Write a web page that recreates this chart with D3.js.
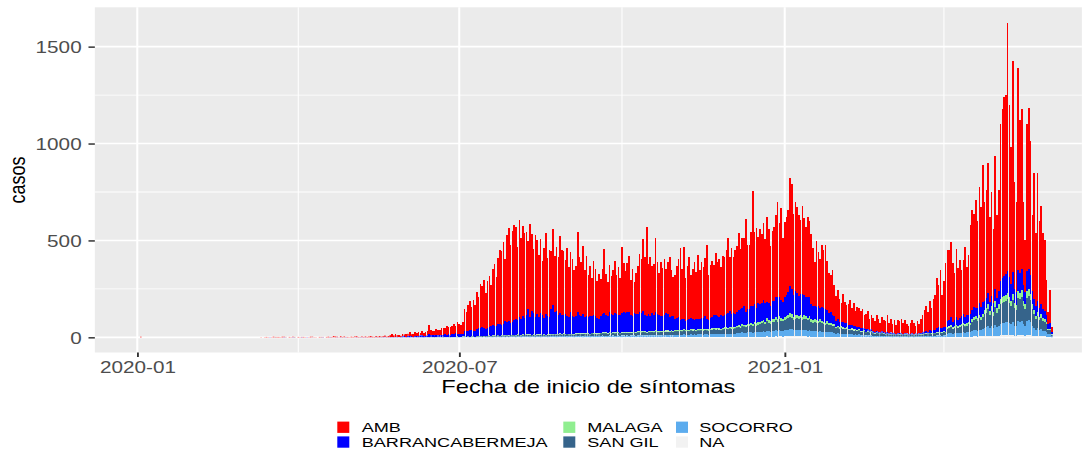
<!DOCTYPE html>
<html><head><meta charset="utf-8">
<script src="https://cdn.jsdelivr.net/npm/d3@7"></script>
<style>html,body{margin:0;padding:0;background:#fff;}svg{display:block;}</style>
</head><body>
<svg id="chart" width="1091" height="450"></svg>
<script>
// ---------------- DATA ----------------
const startDate = "2020-03-07";           // first day of the daily series
const seriesNames = ["AMB","BARRANCABERMEJA","MALAGA","SAN GIL","SOCORRO","NA"];
const seriesColors = ["#FF0000","#0000FF","#90EE90","#36648B","#5CACEE","#F2F2F2"];
const earlyDates = ["2020-01-03"];        // isolated early record
const earlyAmb = [3];
const yTicks = [0,500,1000,1500];
const yMinor = [250,750,1250];
const xTickDates = ["2020-01-01","2020-07-01","2021-01-01"];
const xTickLabels = ["2020-01","2020-07","2021-01"];
const xMinorDates = ["2020-04-01","2020-10-01","2021-04-01"];

const amb = [
0,0,0,0,1,0,1,
2,1,0,1,3,1,2,
2,1,3,2,1,0,2,
1,2,1,0,2,1,1,
2,1,0,1,3,2,1,
1,0,2,1,1,0,2,
3,1,2,5,4,2,1,
4,2,3,1,2,1,3,
2,3,4,2,1,3,2,
3,2,4,5,3,2,4,
3,5,2,4,6,3,5,
10,14,9,12,8,11,6,
12,8,15,10,18,9,14,
18,14,20,12,22,16,19,
22,45,28,20,24,30,26,
25,32,38,30,44,36,40,
45,52,40,58,50,46,60,
115,95,130,150,120,160,135,
190,160,230,210,250,185,240,
260,210,290,320,250,340,380,
380,420,320,450,480,400,470,
490,470,380,500,420,460,440,
430,350,480,400,330,420,380,
320,380,280,360,420,300,350,
300,390,290,330,300,400,340,
330,280,350,260,310,290,240,
260,410,300,280,350,240,310,
220,260,200,280,240,190,230,
190,230,330,210,180,240,200,
230,270,200,250,190,340,250,
220,250,290,180,240,160,210,
250,300,280,370,300,460,260,
300,240,260,380,270,220,280,
250,290,230,270,310,240,200,
230,270,300,370,260,370,220,
280,320,220,260,300,240,330,
250,290,260,300,380,230,270,
290,260,320,280,300,250,310,
300,330,390,280,340,290,330,
340,400,310,360,350,480,330,
330,380,590,370,410,340,390,
360,400,330,440,380,310,360,
380,420,490,380,470,330,390,
400,420,560,540,420,460,440,
420,380,450,400,360,410,390,
360,300,230,340,280,250,320,
300,330,250,210,190,230,160,
130,150,120,100,140,110,95,
110,130,90,120,80,100,95,
90,100,70,80,95,60,75,
70,55,80,65,50,75,60,
60,85,55,70,50,65,45,
70,60,75,55,65,50,45,
55,70,60,40,65,50,75,
90,110,130,100,150,120,160,
180,260,220,300,170,240,330,
370,360,390,300,240,350,270,
300,240,280,360,250,310,460,
520,480,560,450,600,520,710,
510,555,670,440,535,385,685,
425,520,810,875,925,925,1280,
890,705,1091,550,465,1047,790,
825,430,268,760,830,693,390,
650,380,665,450,506,395,368,
181,60,170,25
];

const barranca = [
0,0,0,0,0,0,0,
0,0,1,0,0,0,0,
0,0,0,1,0,0,0,
0,1,0,0,0,0,1,
0,0,1,0,0,0,0,
0,0,0,0,1,0,0,
0,1,0,0,0,1,0,
1,0,0,1,0,0,0,
0,0,1,0,0,1,0,
1,0,0,1,0,0,1,
0,1,0,1,2,0,1,
1,2,1,3,2,1,2,
4,6,3,7,8,5,3,
6,8,5,9,10,7,6,
8,15,10,12,9,11,8,
10,12,9,14,11,13,10,
12,15,18,14,16,12,14,
25,30,28,35,32,26,30,
35,40,38,45,40,36,42,
45,50,55,48,52,58,60,
55,60,70,65,72,62,68,
75,85,70,90,80,95,85,
100,130,90,120,110,95,105,
90,110,100,85,105,95,88,
130,150,110,120,100,105,95,
95,100,90,85,110,95,88,
90,110,95,88,100,85,90,
80,90,85,95,88,80,75,
85,95,100,90,85,105,95,
90,100,95,85,92,98,105,
95,105,100,88,85,95,92,
88,98,92,105,82,78,85,
80,92,86,96,88,82,78,
75,80,88,82,75,72,78,
55,60,65,50,58,52,48,
50,55,60,52,48,58,54,
52,58,60,65,55,50,56,
60,65,70,62,58,68,64,
65,70,75,80,68,72,66,
70,75,85,80,95,70,75,
75,85,95,90,80,100,92,
90,100,95,85,90,80,95,
95,105,115,100,95,88,100,
110,120,140,130,110,125,115,
100,110,120,105,98,108,102,
80,75,65,70,78,60,70,
70,72,60,50,55,45,40,
30,32,25,22,28,24,20,
18,20,15,18,14,15,12,
12,14,10,12,9,8,10,
8,6,9,7,6,8,6,
6,8,5,7,6,5,4,
5,6,4,5,4,4,3,
4,5,3,3,4,4,5,
8,10,12,9,14,12,15,
15,20,24,18,22,20,25,
30,35,40,28,32,38,30,
35,40,45,38,42,36,48,
45,55,42,50,60,48,58,
50,55,60,45,55,45,65,
55,70,90,95,100,105,110,
100,85,110,75,70,105,100,
110,80,65,100,105,95,70,
60,50,55,45,50,45,40,
35,25,30,15
];

const malaga = [
0,0,0,0,0,0,0,
0,0,0,0,0,0,0,
0,0,0,0,0,0,0,
0,0,0,0,0,0,0,
0,0,0,0,0,0,0,
0,0,0,0,0,0,0,
0,0,0,0,0,0,0,
0,0,0,0,0,0,0,
0,0,0,0,0,0,0,
0,0,0,0,0,0,0,
0,0,0,0,0,0,0,
0,0,0,0,0,0,0,
0,0,0,0,0,0,0,
0,0,0,0,0,0,0,
0,1,0,0,0,0,0,
0,0,1,0,0,1,0,
1,0,0,1,0,0,1,
1,0,1,0,1,1,0,
1,1,0,1,1,0,1,
1,2,1,1,2,1,1,
2,1,2,1,2,2,1,
2,2,3,2,2,3,2,
2,3,2,2,3,2,2,
3,2,2,3,2,2,3,
3,2,3,3,2,3,3,
3,3,2,3,3,2,3,
3,3,4,3,3,4,3,
4,3,3,4,3,4,3,
4,4,5,4,4,5,4,
4,5,4,5,4,5,4,
5,4,5,5,4,5,5,
5,5,6,5,5,6,5,
5,6,5,6,5,6,5,
6,5,6,6,5,6,6,
6,6,7,6,6,7,6,
6,7,6,7,6,7,6,
7,6,7,7,6,7,7,
7,7,8,7,7,8,7,
8,7,8,8,7,8,8,
9,10,9,11,10,9,11,
11,12,11,12,11,12,12,
13,14,12,15,13,12,14,
14,16,14,16,15,14,16,
16,17,18,18,16,17,17,
17,17,16,17,16,15,16,
14,13,14,13,12,14,13,
12,11,12,11,11,10,10,
8,9,8,8,8,7,8,
7,6,7,6,7,6,6,
5,5,5,4,5,4,5,
4,3,4,3,3,4,3,
3,3,2,3,2,3,2,
2,3,2,2,3,2,2,
2,2,2,3,2,2,3,
3,3,3,3,4,3,3,
4,4,4,5,4,5,4,
8,8,9,8,9,10,9,
10,10,11,10,11,12,11,
14,15,16,15,17,16,18,
21,22,26,20,24,19,28,
22,25,30,31,32,33,34,
31,28,34,26,25,36,34,
37,28,25,36,37,34,25,
21,16,19,16,18,15,14,
12,7,7,2
];

const sanGil = [
0,0,0,0,0,0,0,
0,0,0,0,0,1,0,
0,0,0,0,0,0,0,
0,0,1,0,0,0,0,
0,0,0,0,0,0,0,
0,0,0,1,0,0,0,
0,0,0,0,0,0,0,
0,0,1,0,0,0,0,
0,0,0,0,1,0,0,
0,0,0,0,0,0,1,
0,0,1,0,0,0,0,
0,1,0,0,1,0,0,
1,0,0,1,0,1,0,
0,1,1,0,1,0,1,
1,2,1,1,2,1,2,
2,1,2,2,1,2,1,
2,2,1,3,2,2,3,
3,2,4,3,3,4,2,
4,3,4,5,3,4,4,
5,4,6,5,4,6,5,
6,5,7,6,5,7,6,
7,6,8,7,6,8,7,
8,7,8,7,8,6,7,
7,8,7,8,6,8,7,
9,8,10,9,8,10,9,
10,9,11,9,10,8,9,
10,11,9,10,11,9,10,
11,10,12,10,11,9,10,
12,11,13,12,11,13,12,
13,12,14,13,12,14,13,
14,13,15,14,13,15,14,
15,16,14,17,15,14,16,
16,17,15,18,16,15,17,
17,16,18,17,16,18,17,
19,18,20,19,18,21,19,
20,19,21,20,22,19,21,
21,22,20,23,21,20,22,
23,24,22,25,23,22,24,
25,26,24,27,26,25,28,
30,32,29,34,33,31,35,
35,37,34,40,36,38,39,
42,45,40,48,44,41,46,
48,52,47,55,50,49,53,
55,58,62,60,54,57,59,
56,58,53,57,55,52,54,
46,44,48,45,42,47,43,
40,38,42,37,39,36,35,
28,30,26,29,27,25,27,
23,22,24,21,22,20,21,
18,17,19,16,17,15,16,
12,11,13,12,10,12,11,
9,10,8,9,8,9,7,
8,9,8,7,9,8,7,
7,8,7,8,7,9,8,
9,10,11,10,12,11,12,
12,14,13,15,14,16,15,
26,28,32,27,29,33,30,
32,35,38,34,36,40,37,
48,52,55,50,58,54,62,
70,75,85,68,80,65,92,
75,85,100,105,108,110,115,
105,95,112,88,82,120,115,
122,95,85,120,125,112,85,
70,55,65,52,60,50,48,
40,22,22,8
];

const socorro = [
0,0,0,0,0,0,0,
0,0,0,0,0,0,0,
0,0,0,0,1,0,0,
0,0,0,0,0,0,0,
0,0,0,0,0,1,0,
0,0,0,0,0,0,0,
0,0,0,1,0,0,0,
0,0,0,0,0,0,0,
0,1,0,0,0,0,0,
0,0,0,0,0,0,0,
0,0,0,0,1,0,0,
0,0,0,1,0,0,0,
0,1,0,0,0,1,0,
1,0,0,1,0,0,1,
1,0,1,1,0,1,1,
1,1,0,1,1,1,0,
1,1,2,1,1,2,1,
2,1,2,1,2,2,1,
2,2,3,2,2,3,2,
3,2,3,3,2,4,3,
3,4,3,4,3,4,4,
4,4,5,4,4,5,4,
5,4,5,4,5,4,5,
4,5,4,5,4,5,4,
5,6,5,6,5,6,5,
6,5,6,6,5,6,5,
6,6,7,6,6,7,6,
7,6,7,6,7,6,7,
7,8,7,8,7,8,7,
8,7,8,8,7,9,8,
8,9,8,9,8,9,8,
9,10,9,10,9,9,10,
10,9,10,11,10,9,10,
10,11,10,11,10,11,10,
11,12,11,12,11,13,12,
12,12,13,12,13,12,13,
13,13,12,14,13,12,14,
14,15,14,15,14,13,15,
15,16,15,17,16,15,17,
18,19,18,21,20,19,22,
22,23,21,25,22,24,24,
26,28,25,30,27,25,28,
29,32,28,33,30,29,32,
33,35,37,36,32,34,35,
34,35,32,34,33,31,33,
28,27,29,27,26,28,26,
24,23,25,22,23,22,21,
17,18,16,17,16,15,16,
13,13,14,12,13,12,13,
10,10,11,9,10,9,10,
7,7,8,7,6,7,7,
5,6,5,5,5,6,4,
5,5,5,4,5,5,4,
4,5,4,5,4,5,5,
5,6,7,6,7,6,7,
7,9,8,9,8,10,9,
16,17,19,16,18,20,18,
19,21,23,20,22,24,22,
28,31,33,30,35,32,37,
42,45,51,41,48,39,56,
45,51,60,63,65,66,69,
63,57,67,53,50,72,69,
73,57,51,72,75,67,51,
42,33,39,31,36,30,28,
24,14,14,5
];

const naVals = [
0,0,0,0,0,0,0,
0,0,0,0,0,0,0,
0,0,0,0,0,0,0,
0,0,0,0,0,0,0,
0,0,0,0,0,0,0,
0,0,0,0,0,0,0,
0,0,0,0,0,0,0,
0,0,0,0,0,0,0,
0,0,0,0,0,0,0,
0,0,0,0,0,0,0,
0,0,0,0,0,0,0,
0,0,0,0,0,0,0,
0,0,0,0,0,0,0,
0,0,0,0,0,0,0,
0,0,0,0,0,0,0,
0,0,0,0,0,0,0,
0,0,0,0,0,0,0,
0,1,0,0,0,1,0,
0,0,1,0,1,0,0,
1,0,0,1,0,1,0,
0,1,0,1,0,1,1,
1,0,1,1,0,1,1,
1,1,0,1,1,0,1,
1,0,1,1,1,0,1,
1,1,1,0,1,1,1,
1,1,0,1,1,1,0,
1,1,1,1,0,1,1,
1,0,1,1,1,1,1,
1,2,1,1,1,2,1,
2,1,1,2,1,1,2,
1,2,1,1,2,1,1,
2,1,2,1,2,1,2,
1,2,1,2,1,2,1,
2,1,2,2,1,2,1,
2,2,1,2,2,2,1,
2,1,2,2,2,1,2,
2,2,2,1,2,2,2,
2,3,2,2,3,2,2,
3,2,3,2,3,3,2,
3,3,3,4,3,3,3,
3,4,3,4,3,4,4,
4,4,4,5,4,4,4,
4,5,4,5,5,4,5,
5,5,6,5,5,5,5,
5,5,5,5,5,4,5,
4,4,4,4,4,4,4,
3,3,4,3,3,3,3,
2,3,2,2,2,2,2,
2,2,2,2,2,2,2,
2,1,2,1,2,1,1,
1,1,1,1,1,1,1,
1,1,1,1,0,1,1,
1,0,1,1,1,1,0,
1,1,0,1,1,1,1,
1,1,1,1,1,1,1,
1,1,2,1,1,2,1,
2,3,3,2,3,3,2,
3,3,3,3,3,4,3,
4,5,5,4,5,5,5,
7,8,8,6,8,7,9,
8,9,10,11,10,11,12,
11,10,12,8,8,12,12,
13,10,9,12,13,12,9,
7,6,7,6,6,5,5,
4,2,2,0
];

// ---------------- RENDER ----------------
const SX = 1.27;                 // horizontal stretch of the reference
const W = 1091, H = 450;
const X = v => v / SX;           // outer px -> inner coordinate
const FONT = "'Liberation Sans', Arial, Helvetica, sans-serif";

const svg = d3.select("#chart")
  .attr("viewBox", `0 0 ${W / SX} ${H}`)
  .attr("preserveAspectRatio", "none")
  .style("font-family", FONT);

const panel = { l: X(94.84), r: X(1081.9), t: 7.3, b: 352.5 };
const parse = d3.utcParse("%Y-%m-%d");

const x = d3.scaleUtc().domain([parse("2019-12-08"), parse("2021-06-18")]).range([panel.l, panel.r]);
const y = d3.scaleLinear().domain([-78.3, 1703]).range([panel.b, panel.t]);

// records
const t0 = parse(startDate);
const seriesArrays = { "AMB": amb, "BARRANCABERMEJA": barranca, "MALAGA": malaga, "SAN GIL": sanGil, "SOCORRO": socorro, "NA": naVals };
const rows = [];
earlyDates.forEach((ds, j) => {
  const r = { date: parse(ds) };
  seriesNames.forEach(s => r[s] = 0);
  r["AMB"] = earlyAmb[j];
  rows.push(r);
});
for (let i = 0; i < amb.length; i++) {
  const r = { date: d3.utcDay.offset(t0, i) };
  seriesNames.forEach(s => r[s] = seriesArrays[s][i] || 0);
  rows.push(r);
}
const color = d3.scaleOrdinal().domain(seriesNames).range(seriesColors);
const stackOrder = seriesNames.slice().reverse(); // first level on top (ggplot)
const stacked = d3.stack().keys(stackOrder)(rows);

// panel background
svg.append("rect").attr("x", panel.l).attr("y", panel.t)
  .attr("width", panel.r - panel.l).attr("height", panel.b - panel.t).attr("fill", "#EBEBEB");

const grid = svg.append("g");
grid.selectAll("line.ymin").data(yMinor).join("line")
  .attr("x1", panel.l).attr("x2", panel.r).attr("y1", d => y(d)).attr("y2", d => y(d))
  .attr("stroke", "#fff").attr("stroke-width", 0.8);
grid.selectAll("line.xmin").data(xMinorDates).join("line")
  .attr("y1", panel.t).attr("y2", panel.b).attr("x1", d => x(parse(d))).attr("x2", d => x(parse(d)))
  .attr("stroke", "#fff").attr("stroke-width", 0.8);
grid.selectAll("line.ymaj").data(yTicks).join("line")
  .attr("x1", panel.l).attr("x2", panel.r).attr("y1", d => y(d)).attr("y2", d => y(d))
  .attr("stroke", "#fff").attr("stroke-width", 1.6);
grid.selectAll("line.xmaj").data(xTickDates).join("line")
  .attr("y1", panel.t).attr("y2", panel.b).attr("x1", d => x(parse(d))).attr("x2", d => x(parse(d)))
  .attr("stroke", "#fff").attr("stroke-width", 1.6);

// bars
const dayW = x(d3.utcDay.offset(t0, 1)) - x(t0);
const bw = dayW * 0.9;
const bars = svg.append("g");
stacked.forEach(layer => {
  bars.append("g").attr("fill", color(layer.key))
    .selectAll("rect").data(layer.filter(d => d[1] - d[0] > 0)).join("rect")
    .attr("x", d => x(d.data.date) - bw / 2)
    .attr("width", bw)
    .attr("y", d => y(d[1]))
    .attr("height", d => y(d[0]) - y(d[1]))
    .attr("shape-rendering", d => (y(d[0]) - y(d[1]) < 2 ? "auto" : "crispEdges"));
});

// axes
const axisY = svg.append("g").attr("transform", `translate(${panel.l},0)`)
  .call(d3.axisLeft(y).tickValues(yTicks).tickSize(5).tickPadding(5.4).tickFormat(d3.format("d")));
axisY.select(".domain").remove();
axisY.selectAll(".tick line").attr("stroke", "#333333").attr("stroke-width", 1.5);
axisY.selectAll(".tick text").attr("fill", "#4D4D4D").attr("font-size", 16.3)
  .attr("font-family", FONT).attr("dy", "0.36em");

const axisX = svg.append("g").attr("transform", `translate(0,${panel.b})`)
  .call(d3.axisBottom(x).tickValues(xTickDates.map(parse)).tickSize(4.5).tickPadding(4.7)
    .tickFormat((d, i) => xTickLabels[i]));
axisX.select(".domain").remove();
axisX.selectAll(".tick line").attr("stroke", "#333333").attr("stroke-width", 1.5);
axisX.selectAll(".tick text").attr("fill", "#4D4D4D").attr("font-size", 16.3).attr("font-family", FONT);

// axis titles
svg.append("text").attr("x", (panel.l + panel.r) / 2).attr("y", 392.7)
  .attr("text-anchor", "middle").attr("font-size", 18.6).attr("fill", "#000")
  .text("Fecha de inicio de síntomas");
svg.append("text").attr("transform", `translate(${X(24.5)},${(panel.t + panel.b) / 2}) rotate(-90)`)
  .attr("text-anchor", "middle").attr("font-size", 18).attr("fill", "#000")
  .text("casos");

// legend (3 columns x 2 rows, column-major)
const keyX = [337.3, 563.3, 676];
const textX = [361.7, 587.3, 699.3];
const keyY = [421.6, 436.4];
const baseY = [432.2, 447.0];
const leg = svg.append("g");
seriesNames.forEach((s, i) => {
  const c = Math.floor(i / 2), r = i % 2;
  leg.append("rect").attr("x", X(keyX[c])).attr("y", keyY[r])
    .attr("width", X(12)).attr("height", 11.3).attr("fill", color(s));
  leg.append("text").attr("transform", `translate(${X(textX[c])},${baseY[r]}) scale(1.08,1)`)
    .attr("font-size", 13.2).attr("fill", "#000").text(s);
});
</script>
</body></html>
